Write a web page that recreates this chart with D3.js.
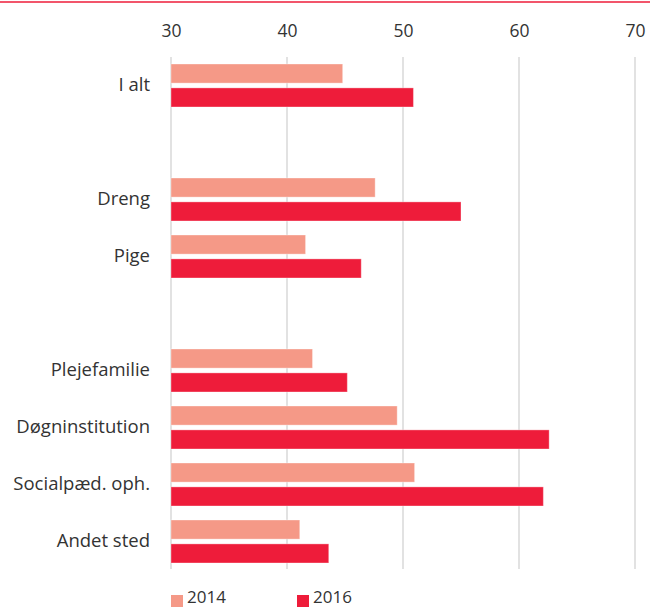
<!DOCTYPE html>
<html><head><meta charset="utf-8">
<script src="https://cdn.jsdelivr.net/npm/d3@7"></script>
<style>body{margin:0;background:#fff;}svg{display:block;font-family:"Open Sans",sans-serif;}</style>
</head><body>
<svg id="c" width="650" height="608"></svg>
<script>
const categories = ["I alt", "", "Dreng", "Pige", " ", "Plejefamilie", "Døgninstitution", "Socialpæd. oph.", "Andet sted"];
const series = ["2014", "2016"];
const values2014 = [44.8, null, 47.6, 41.6, null, 42.2, 49.5, 51.0, 41.1];
const values2016 = [50.9, null, 55.0, 46.4, null, 45.2, 62.6, 62.1, 43.6];
const tickValues = [30, 40, 50, 60, 70];
const colors = ["#F59987", "#EE1C3A"];

const svg = d3.select("#c");
svg.append("line").attr("x1",0).attr("x2",650).attr("y1",2).attr("y2",2).attr("stroke","#EE1C3A").attr("stroke-width",1.5);

const x = d3.scaleLinear().domain([30,70]).range([171,635]);
const y = d3.scaleBand().domain(categories).range([57,570]).paddingInner(0).paddingOuter(0);
const inner = d3.scaleBand().domain(series).range([7, y.bandwidth()-7]).paddingInner(0.2);

// gridlines
svg.append("g").selectAll("line").data(tickValues).join("line")
  .attr("x1",d=>x(d)).attr("x2",d=>x(d)).attr("y1",57).attr("y2",569)
  .attr("stroke","#d9d9d9").attr("stroke-width",1.5);

// axis labels
const ax = svg.append("g").attr("transform","translate(0,57)")
  .call(d3.axisTop(x).tickValues(tickValues).tickSize(0).tickPadding(20).tickFormat(d3.format("d")));
ax.select(".domain").remove();
ax.selectAll("text").attr("font-size",17.5).attr("fill","#333").attr("font-family","'Open Sans',sans-serif");

// bars
const rows = categories.map((c,i)=>({c, v:[values2014[i], values2016[i]]}));
const g = svg.append("g");
rows.forEach(r=>{
  r.v.forEach((v,j)=>{
    if(v==null) return;
    g.append("rect").attr("x",x(30)).attr("y",y(r.c)+inner(series[j]))
      .attr("width",x(v)-x(30)).attr("height",inner.bandwidth())
      .attr("fill",colors[j]).attr("stroke","rgba(255,255,255,0.35)").attr("stroke-width",1);
  });
});

// category labels
const yl = svg.append("g").attr("transform","translate(150,0)")
  .call(d3.axisLeft(y).tickSize(0).tickPadding(0));
yl.select(".domain").remove();
yl.selectAll("text").attr("font-size",18.5).attr("fill","#333").attr("font-family","'Open Sans',sans-serif");

// legend
const lg = svg.append("g");
const lx = [171, 297];
series.forEach((s,i)=>{
  lg.append("rect").attr("x",lx[i]).attr("y",595).attr("width",12).attr("height",12).attr("fill",colors[i]);
  lg.append("text").attr("x",lx[i]+16).attr("y",603).attr("font-size",17).attr("fill","#333").text(s);
});
</script>
</body></html>
